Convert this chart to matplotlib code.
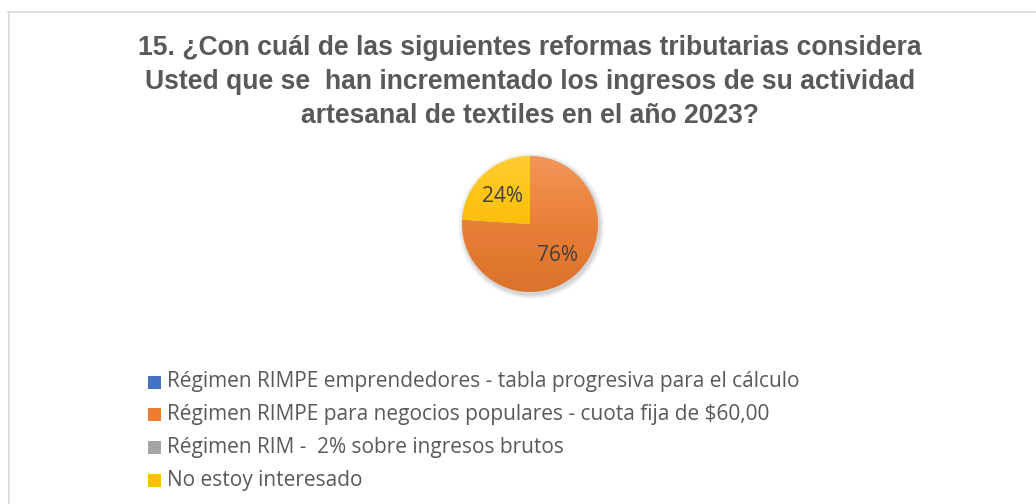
import numpy as np
import matplotlib
matplotlib.use("Agg")
import matplotlib.pyplot as plt
from matplotlib.lines import Line2D
from matplotlib.patches import Rectangle, Circle

# ---- data ----
title = ("15. ¿Con cuál de las siguientes reformas tributarias considera\n"
         "Usted que se  han incrementado los ingresos de su actividad\n"
         "artesanal de textiles en el año 2023?")
categories = [
    "Régimen RIMPE emprendedores - tabla progresiva para el cálculo",
    "Régimen RIMPE para negocios populares - cuota fija de $60,00",
    "Régimen RIM -  2% sobre ingresos brutos",
    "No estoy interesado",
]
values = [0, 76, 0, 24]
colors = ["#4472C4", "#ED7D31", "#A5A5A5", "#FFC000"]

W, H = 1036, 504
fig = plt.figure(figsize=(W / 100, H / 100), dpi=100)
fig.patch.set_facecolor("white")

# border (top and left visible)
fig.add_artist(Line2D([8 / W, 1035 / W], [1 - 11.5 / H, 1 - 11.5 / H], color="#D9D9D9", lw=1.2))
fig.add_artist(Line2D([8.5 / W, 8.5 / W], [1 - 11.5 / H, 0], color="#D9D9D9", lw=1.2))

# title
fig.text(530 / W, 1 - 82 / H, title, ha="center", va="center", fontsize=19.1, fontweight="bold",
         color="#595959", family="Liberation Sans", linespacing=1.42)

# pie
cx, cy, r = 530, 224, 68
pad = 1.0
ax = fig.add_axes([(cx - r * pad) / W, 1 - (cy + r * pad) / H, 2 * r * pad / W, 2 * r * pad / H])
ax.axis("off")

# soft shadow
for rr, a in [(1.08, 0.025), (1.06, 0.035), (1.04, 0.05), (1.02, 0.06)]:
    ax.add_patch(Circle((0.02, -0.03), rr, color="black", alpha=a, lw=0, zorder=0, clip_on=False))

total = sum(values)
wedges, _ = ax.pie(values, colors=colors, startangle=90, counterclock=False, radius=1.0,
                   wedgeprops=dict(linewidth=0, clip_on=False), center=(0, 0), frame=False)
ax.set_xlim(-pad, pad)
ax.set_ylim(-pad, pad)
ax.set_aspect("auto")

# subtle vertical gradient shading (lighter top, darker bottom)
grad = np.linspace(0, 1, 256).reshape(-1, 1)  # row 0 = top
img = ax.imshow(np.dstack([np.ones((256, 1))] * 3 + [0.20 * (1 - grad) ** 2]),
                extent=[-1, 1, -1, 1], zorder=3, aspect="auto")
img.set_clip_path(Circle((0, 0), 1.0, transform=ax.transData))
img2 = ax.imshow(np.dstack([np.zeros((256, 1))] * 3 + [0.08 * grad ** 2]),
                 extent=[-1, 1, -1, 1], zorder=3, aspect="auto")
img2.set_clip_path(Circle((0, 0), 1.0, transform=ax.transData))
ax.set_xlim(-pad, pad)
ax.set_ylim(-pad, pad)

# labels
for v, w in zip(values, wedges):
    if v == 0:
        continue
    ang = np.deg2rad((w.theta1 + w.theta2) / 2)
    ax.text(0.6 * np.cos(ang), 0.6 * np.sin(ang) - 0.03, f"{round(100 * v / total)}%", ha="center",
            va="center", fontsize=15, color="#404040", family="Open Sans", zorder=5)

# legend
y0 = 382
dy = 32.7
for i, (lab, c) in enumerate(zip(categories, colors)):
    y = y0 + i * dy
    fig.add_artist(Rectangle((148 / W, 1 - (y + 6.5) / H), 13 / W, 13 / H, color=c, lw=0))
    fig.text(167 / W, 1 - y / H, lab, ha="left", va="center", fontsize=15.05, color="#595959",
             family="Open Sans")

fig.savefig("out.png", dpi=100, facecolor="white")
